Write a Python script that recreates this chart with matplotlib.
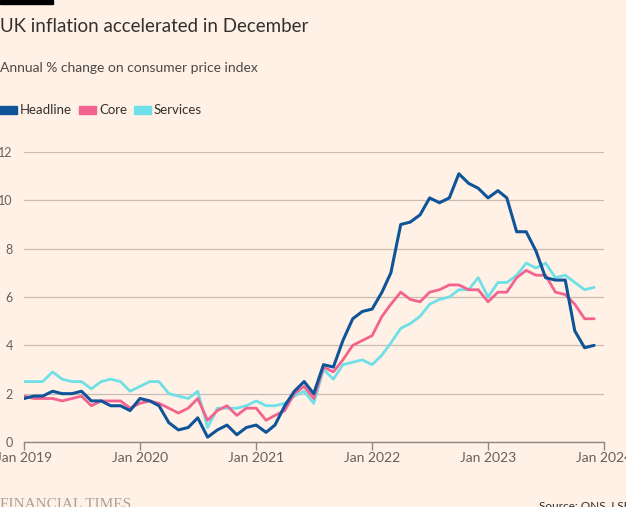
#!/usr/bin/python3
import matplotlib
matplotlib.use("Agg")
import matplotlib.pyplot as plt
import matplotlib.dates as mdates
from matplotlib.patches import Rectangle
import pandas as pd

# monthly, Jan 2019 - Dec 2023
months = pd.date_range("2019-01-01", "2023-12-01", freq="MS")

headline = [
    1.8, 1.9, 1.9, 2.1, 2.0, 2.0, 2.1, 1.7, 1.7, 1.5, 1.5, 1.3,
    1.8, 1.7, 1.5, 0.8, 0.5, 0.6, 1.0, 0.2, 0.5, 0.7, 0.3, 0.6,
    0.7, 0.4, 0.7, 1.5, 2.1, 2.5, 2.0, 3.2, 3.1, 4.2, 5.1, 5.4,
    5.5, 6.2, 7.0, 9.0, 9.1, 9.4, 10.1, 9.9, 10.1, 11.1, 10.7, 10.5,
    10.1, 10.4, 10.1, 8.7, 8.7, 7.9, 6.8, 6.7, 6.7, 4.6, 3.9, 4.0,
]
core = [
    1.9, 1.8, 1.8, 1.8, 1.7, 1.8, 1.9, 1.5, 1.7, 1.7, 1.7, 1.4,
    1.6, 1.7, 1.6, 1.4, 1.2, 1.4, 1.8, 0.9, 1.3, 1.5, 1.1, 1.4,
    1.4, 0.9, 1.1, 1.3, 2.0, 2.3, 1.8, 3.1, 2.9, 3.4, 4.0, 4.2,
    4.4, 5.2, 5.7, 6.2, 5.9, 5.8, 6.2, 6.3, 6.5, 6.5, 6.3, 6.3,
    5.8, 6.2, 6.2, 6.8, 7.1, 6.9, 6.9, 6.2, 6.1, 5.7, 5.1, 5.1,
]
services = [
    2.5, 2.5, 2.5, 2.9, 2.6, 2.5, 2.5, 2.2, 2.5, 2.6, 2.5, 2.1,
    2.3, 2.5, 2.5, 2.0, 1.9, 1.8, 2.1, 0.6, 1.4, 1.4, 1.4, 1.5,
    1.7, 1.5, 1.5, 1.6, 1.9, 2.1, 1.6, 3.0, 2.6, 3.2, 3.3, 3.4,
    3.2, 3.6, 4.1, 4.7, 4.9, 5.2, 5.7, 5.9, 6.0, 6.3, 6.3, 6.8,
    6.0, 6.6, 6.6, 6.9, 7.4, 7.2, 7.4, 6.8, 6.9, 6.6, 6.3, 6.4,
]
series_names = ["Headline", "Core", "Services"]
series_colors = ["#0f5499", "#f2648f", "#6fdfe8"]
y_ticks = [0, 2, 4, 6, 8, 10, 12]

bg = "#fff1e5"
grid_col = "#c9bdb3"
text_col = "#33302e"
tick_col = "#66605c"
font = ["Lato", "DejaVu Sans"]


def main():
    plt.rcParams["font.family"] = font
    fig = plt.figure(figsize=(6.26, 5.07), dpi=100, facecolor=bg)
    ax = fig.add_axes([24 / 626, 1 - 442 / 507, 580 / 626, 290 / 507])
    ax.set_facecolor(bg)

    # lines (services underneath, headline on top)
    ax.plot(months, services, color=series_colors[2], lw=2.0,
            solid_joinstyle="round", solid_capstyle="round", zorder=3)
    ax.plot(months, core, color=series_colors[1], lw=2.0,
            solid_joinstyle="round", solid_capstyle="round", zorder=4)
    ax.plot(months, headline, color=series_colors[0], lw=2.2,
            solid_joinstyle="round", solid_capstyle="round", zorder=5)

    ax.set_xlim(pd.Timestamp("2019-01-01"), pd.Timestamp("2024-01-01"))
    ax.set_ylim(0, 12)
    ax.set_yticks(y_ticks)
    ax.grid(axis="y", color=grid_col, lw=0.9)
    ax.set_axisbelow(True)
    for side in ["top", "right", "left"]:
        ax.spines[side].set_visible(False)
    ax.spines["bottom"].set_color("#8f8782")
    ax.spines["bottom"].set_linewidth(1.0)

    ax.xaxis.set_major_locator(mdates.YearLocator())
    ax.xaxis.set_major_formatter(mdates.DateFormatter("Jan %Y"))
    ax.tick_params(axis="x", length=6, width=1, color="#8f8782",
                   labelsize=10, labelcolor=tick_col, pad=1)
    ax.tick_params(axis="y", length=0, labelsize=9, labelcolor=tick_col, pad=8)
    for lab in ax.get_yticklabels():
        lab.set_horizontalalignment("right")

    # header
    fig.patches.append(Rectangle((0, 1 - 4 / 507), 53 / 626, 4 / 507,
                                 transform=fig.transFigure, color="black"))
    fig.text(0, 1 - 27 / 507, "UK inflation accelerated in December",
             fontsize=13.5, color=text_col, va="center")
    fig.text(0, 1 - 68 / 507, "Annual % change on consumer price index",
             fontsize=10, color="#4d4845", va="center")

    # legend
    x0 = 0
    for name, col in zip(series_names, series_colors):
        fig.patches.append(Rectangle((x0 / 626, 1 - 114.5 / 507), 17 / 626, 8 / 507,
                                     transform=fig.transFigure, color=col))
        t = fig.text((x0 + 20) / 626, 1 - 110.5 / 507, name, fontsize=9.5,
                     color=text_col, va="center")
        fig.canvas.draw()
        bb = t.get_window_extent()
        x0 = bb.x1 + 7

    # footer
    fig.text(0, 1 - 504 / 507, "FINANCIAL TIMES", fontsize=11,
             family="Liberation Serif", color="#aaa29b", va="center")
    fig.text(539 / 626, 1 - 506 / 507, "Source: ONS, LSEG", fontsize=8.5,
             color=text_col, va="center", ha="left")

    fig.savefig("out.png", dpi=100, facecolor=bg)


if __name__ == '__main__':
    main()
